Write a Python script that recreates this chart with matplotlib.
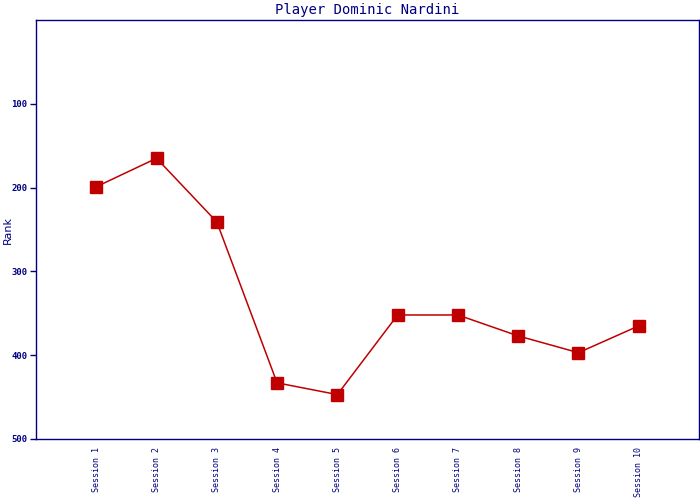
import matplotlib
matplotlib.use('Agg')
import matplotlib.pyplot as plt

NAVY = '#000080'
RED = '#c00000'

sessions = ['Session %d' % i for i in range(1, 11)]
ranks = [199, 165, 241, 433, 447, 352, 352, 377, 397, 365]
y_ticks = [100, 200, 300, 400, 500]

plt.rcParams['font.family'] = ['DejaVu Sans Mono', 'DejaVu Sans']

fig = plt.figure(figsize=(7, 5), dpi=100)
ax = fig.add_axes([36 / 700, 61 / 500, 663 / 700, 419 / 500])

x = list(range(1, len(sessions) + 1))
ax.plot(x, ranks, color=RED, linewidth=1.1, marker='s', markersize=8,
        markerfacecolor=RED, markeredgecolor=RED)

ax.set_xlim(0, len(sessions) + 1)
ax.set_ylim(500, 0)
ax.set_yticks(y_ticks)
ax.set_yticklabels([str(t) for t in y_ticks], fontsize=6.5, fontweight='bold',
                   color=NAVY)
ax.set_xticks(x)
ax.set_xticklabels(sessions, rotation=90, fontsize=6, color=NAVY,
                   va='top', ha='center')
ax.tick_params(axis='x', length=0, pad=6)
ax.tick_params(axis='y', length=4, width=1, color=NAVY, pad=2)

for s in ax.spines.values():
    s.set_color(NAVY)
    s.set_linewidth(1)

fig.text(8 / 700, 1 - 230 / 500, 'Rank', color=NAVY, fontsize=8,
         rotation=90, ha='center', va='center', family='DejaVu Sans')
ax.set_title('Player Dominic Nardini', color=NAVY, fontsize=10, pad=4)

fig.savefig('out.png', dpi=100)
